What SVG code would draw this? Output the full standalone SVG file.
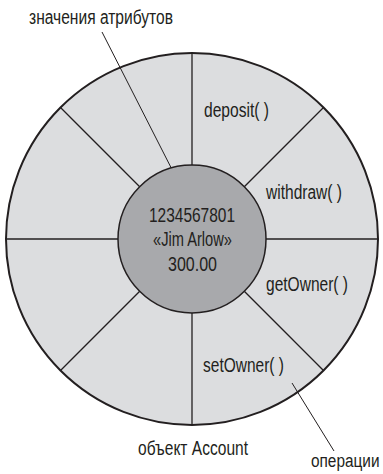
<svg xmlns="http://www.w3.org/2000/svg" width="383" height="474" viewBox="0 0 383 474">
<style>
  .lbl { font-family: "Liberation Sans", Arial, sans-serif; font-size: 19.5px; fill: #231f20; }
  .in { font-family: "Liberation Sans", Arial, sans-serif; font-size: 20px; fill: #231f20; text-anchor: middle; }
  .spoke { stroke: #231f20; stroke-width: 1.3; fill: none; }
  .lead { stroke: #231f20; stroke-width: 1; fill: none; }
</style>
<rect width="383" height="474" fill="#ffffff"/>
<g id="object-account">
  <circle cx="192" cy="239" r="186" fill="#dcdddf" stroke="#231f20" stroke-width="2"/>
</g>
<g id="connectors">
  <line class="spoke" x1="192" y1="165" x2="192" y2="53"/>
  <line class="spoke" x1="244.3" y1="186.7" x2="323.5" y2="107.5"/>
  <line class="spoke" x1="266" y1="239" x2="378" y2="239"/>
  <line class="spoke" x1="244.3" y1="291.3" x2="323.5" y2="370.5"/>
  <line class="spoke" x1="192" y1="313" x2="192" y2="425"/>
  <line class="spoke" x1="139.7" y1="291.3" x2="60.5" y2="370.5"/>
  <line class="spoke" x1="118" y1="239" x2="6" y2="239"/>
  <line class="spoke" x1="139.7" y1="186.7" x2="60.5" y2="107.5"/>
  <line class="lead" x1="102" y1="32" x2="186" y2="197"/>
  <line class="lead" x1="292" y1="383" x2="334" y2="451"/>
</g>
<g id="attributes">
  <circle cx="192" cy="239" r="74" fill="#a8a9ac" stroke="#231f20" stroke-width="1.5"/>
  <text class="in" x="192" y="222" textLength="86" lengthAdjust="spacingAndGlyphs">1234567801</text>
  <text class="in" x="192.5" y="246" textLength="79" lengthAdjust="spacingAndGlyphs">«Jim Arlow»</text>
  <text class="in" x="192.5" y="271" textLength="49" lengthAdjust="spacingAndGlyphs">300.00</text>
</g>
<g id="op-deposit"><text class="lbl" x="204" y="117" textLength="65" lengthAdjust="spacingAndGlyphs">deposit( )</text></g>
<g id="op-withdraw"><text class="lbl" x="266" y="199" textLength="76" lengthAdjust="spacingAndGlyphs">withdraw( )</text></g>
<g id="op-getOwner"><text class="lbl" x="266" y="291" textLength="82" lengthAdjust="spacingAndGlyphs">getOwner( )</text></g>
<g id="op-setOwner"><text class="lbl" x="203" y="372" textLength="81" lengthAdjust="spacingAndGlyphs">setOwner( )</text></g>
<g id="label-attributes"><text class="lbl" x="29" y="24" textLength="144" lengthAdjust="spacingAndGlyphs">значения атрибутов</text></g>
<g id="label-object"><text class="lbl" x="138" y="455" textLength="110" lengthAdjust="spacingAndGlyphs">объект Account</text></g>
<g id="label-operations"><text class="lbl" x="0" y="0" transform="translate(311 467) scale(0.81 1)" style="font-size:19px">операции</text></g>
</svg>
